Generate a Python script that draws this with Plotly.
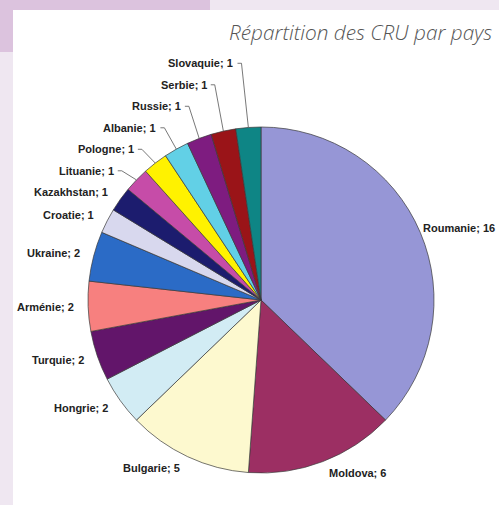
import math
import plotly.graph_objects as go

# ---- data ----
countries = ["Roumanie", "Moldova", "Bulgarie", "Hongrie", "Turquie", "Arménie",
             "Ukraine", "Croatie", "Kazakhstan", "Lituanie", "Pologne", "Albanie",
             "Russie", "Serbie", "Slovaquie"]
counts = [16, 6, 5, 2, 2, 2, 2, 1, 1, 1, 1, 1, 1, 1, 1]
colors = ["#9696d6", "#9c2f63", "#fdf9cf", "#d2ecf4", "#62156a", "#f7807f",
          "#2b6bc6", "#d8d8ee", "#1c1c6e", "#c64ca8", "#fff200", "#62d0e6",
          "#7e1c80", "#9a1418", "#0e8585"]
title_text = "Répartition des CRU par pays"

# ---- layout constants ----
W, H = 499, 505
CX, CY, R = 261, 300, 173          # pie centre / radius in pixels (from top-left)

def px(x):
    return x / W

def py(y):
    return 1 - y / H

fig = go.Figure()
fig.add_trace(go.Pie(
    labels=countries, values=counts, sort=False, direction="clockwise",
    rotation=0, textinfo="none", hoverinfo="label+value",
    marker=dict(colors=colors, line=dict(color="#3a3a3a", width=0.7)),
    domain=dict(x=[px(CX - R), px(CX + R)], y=[py(CY + R), py(CY - R)]),
    showlegend=False,
))

# ---- labels with Excel-like placement ----
total = sum(counts)
cum = 0
mids = []
for v in counts:
    mids.append((cum + v / 2) / total * 2 * math.pi)
    cum += v

label_r = 1.07 * R
nat = [(CX + label_r * math.sin(a), CY - label_r * math.cos(a)) for a in mids]
pos = [list(p) for p in nat]
displaced = [False] * len(counts)
# push small labels on the upper-left upward so they do not overlap
start = countries.index("Kazakhstan")
for i in range(start + 1, len(counts)):
    lim = pos[i - 1][1] - 21.5
    if pos[i][1] > lim:
        pos[i][1] = lim
        pos[i][0] = nat[i][0] - 12
        displaced[i] = True

annotations = []
shapes = [
    dict(type="rect", xref="paper", yref="paper", x0=0, x1=1, y0=0, y1=1,
         fillcolor="#efe7f1", line=dict(width=0), layer="below"),
    dict(type="rect", xref="paper", yref="paper", x0=0, x1=px(210), y0=py(52), y1=1,
         fillcolor="#dcc3de", line=dict(width=0), layer="below"),
    dict(type="rect", xref="paper", yref="paper", x0=px(13), x1=1, y0=0, y1=py(10),
         fillcolor="#ffffff", line=dict(width=0), layer="below"),
]

for i, (name, v) in enumerate(zip(countries, counts)):
    a = mids[i]
    x, y = pos[i]
    s = math.sin(a)
    if displaced[i]:
        xanchor = "right"
    elif abs(s) < 0.2:
        xanchor = "center"
    else:
        xanchor = "left" if s > 0 else "right"
    if xanchor == "left" and i == 0:
        x -= 10
    annotations.append(dict(
        x=px(x), y=py(y), xref="paper", yref="paper",
        text=f"<b>{name}; {v}</b>", showarrow=False,
        xanchor=xanchor, yanchor="middle",
        font=dict(family="Liberation Sans, Arial", size=11, color="#222222"),
    ))
    if displaced[i]:
        ex, ey = CX + R * math.sin(a), CY - R * math.cos(a)
        shapes.append(dict(
            type="path", xref="paper", yref="paper",
            path=f"M {px(x + 2)} {py(y)} L {px(x + 6)} {py(y)} L {px(ex)} {py(ey)}",
            line=dict(color="#555555", width=0.8),
        ))

annotations.append(dict(
    x=px(494), y=py(32), xref="paper", yref="paper", text=f"<i>{title_text}</i>",
    showarrow=False, xanchor="right", yanchor="middle",
    font=dict(family="Open Sans", size=20.8, color="#555555", weight=300),
))

fig.update_layout(
    width=W, height=H, margin=dict(l=0, r=0, t=0, b=0),
    paper_bgcolor="#efe7f1", plot_bgcolor="#ffffff",
    annotations=annotations, shapes=shapes,
)

fig.write_html("out.html", config={"displayModeBar": False},
               post_script="document.body.style.margin='0';")
